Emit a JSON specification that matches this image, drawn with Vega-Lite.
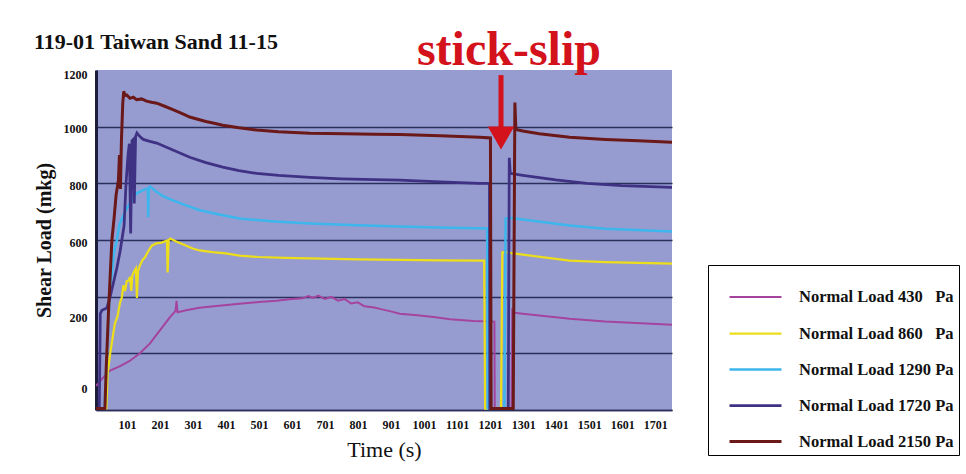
{
"$schema": "https://vega.github.io/schema/vega-lite/v6.json",
"autosize": "none",
"width": 576,
"height": 340,
"padding": {"left": 96, "top": 70, "right": 294, "bottom": 64},
"background": "white",
"view": {"fill": "#969cd0", "stroke": null},
"config": {"font": "Liberation Serif"},
"title": {"text": "119-01 Taiwan Sand 11-15", "anchor": "start", "dx": 0, "offset": -27, "font": "Liberation Serif", "fontSize": 22, "fontWeight": "bold", "color": "#111111"},
"datasets": {
"series": [
{"s":"430","t":7,"v":85},{"s":"430","t":15,"v":95},{"s":"430","t":25,"v":110},{"s":"430","t":48,"v":138},{"s":"430","t":80,"v":155},{"s":"430","t":109,"v":173},{"s":"430","t":140,"v":200},{"s":"430","t":170,"v":234},{"s":"430","t":200,"v":280},{"s":"430","t":230,"v":326},{"s":"430","t":248,"v":350},{"s":"430","t":251,"v":385},{"s":"430","t":254,"v":345},{"s":"430","t":280,"v":352},{"s":"430","t":320,"v":361},{"s":"430","t":380,"v":368},{"s":"430","t":442,"v":375},{"s":"430","t":500,"v":381},{"s":"430","t":554,"v":386},{"s":"430","t":600,"v":392},{"s":"430","t":633,"v":394},{"s":"430","t":650,"v":402},{"s":"430","t":665,"v":396},{"s":"430","t":680,"v":404},{"s":"430","t":700,"v":392},{"s":"430","t":720,"v":399},{"s":"430","t":740,"v":386},{"s":"430","t":760,"v":392},{"s":"430","t":780,"v":376},{"s":"430","t":800,"v":380},{"s":"430","t":820,"v":366},{"s":"430","t":850,"v":362},{"s":"430","t":870,"v":356},{"s":"430","t":900,"v":348},{"s":"430","t":927,"v":340},{"s":"430","t":980,"v":334},{"s":"430","t":1030,"v":328},{"s":"430","t":1080,"v":320},{"s":"430","t":1150,"v":314},{"s":"430","t":1214,"v":312},{"s":"430","t":1215,"v":5},{"s":"430","t":1266,"v":5},{"s":"430","t":1268,"v":352},{"s":"430","t":1275,"v":343},{"s":"430","t":1300,"v":340},{"s":"430","t":1442,"v":322},{"s":"430","t":1550,"v":312},{"s":"430","t":1752,"v":301},
{"s":"860","t":7,"v":5},{"s":"860","t":38,"v":5},{"s":"860","t":40,"v":60},{"s":"860","t":42,"v":127},{"s":"860","t":50,"v":200},{"s":"860","t":58,"v":260},{"s":"860","t":64,"v":304},{"s":"860","t":72,"v":330},{"s":"860","t":80,"v":380},{"s":"860","t":85,"v":396},{"s":"860","t":90,"v":440},{"s":"860","t":95,"v":420},{"s":"860","t":100,"v":455},{"s":"860","t":106,"v":457},{"s":"860","t":110,"v":470},{"s":"860","t":114,"v":420},{"s":"860","t":117,"v":475},{"s":"860","t":124,"v":492},{"s":"860","t":128,"v":500},{"s":"860","t":131,"v":395},{"s":"860","t":134,"v":490},{"s":"860","t":140,"v":510},{"s":"860","t":148,"v":530},{"s":"860","t":155,"v":538},{"s":"860","t":165,"v":560},{"s":"860","t":176,"v":580},{"s":"860","t":190,"v":588},{"s":"860","t":206,"v":591},{"s":"860","t":222,"v":598},{"s":"860","t":224,"v":485},{"s":"860","t":227,"v":600},{"s":"860","t":232,"v":605},{"s":"860","t":250,"v":595},{"s":"860","t":270,"v":585},{"s":"860","t":300,"v":570},{"s":"860","t":321,"v":563},{"s":"860","t":360,"v":557},{"s":"860","t":400,"v":553},{"s":"860","t":442,"v":545},{"s":"860","t":500,"v":540},{"s":"860","t":580,"v":537},{"s":"860","t":655,"v":535},{"s":"860","t":800,"v":532},{"s":"860","t":927,"v":530},{"s":"860","t":1050,"v":528},{"s":"860","t":1183,"v":527},{"s":"860","t":1186,"v":5},{"s":"860","t":1234,"v":5},{"s":"860","t":1238,"v":556},{"s":"860","t":1250,"v":556},{"s":"860","t":1300,"v":548},{"s":"860","t":1442,"v":527},{"s":"860","t":1550,"v":522},{"s":"860","t":1752,"v":517},
{"s":"1290","t":7,"v":5},{"s":"1290","t":33,"v":5},{"s":"1290","t":38,"v":150},{"s":"1290","t":45,"v":304},{"s":"1290","t":48,"v":421},{"s":"1290","t":55,"v":480},{"s":"1290","t":62,"v":560},{"s":"1290","t":70,"v":598},{"s":"1290","t":79,"v":658},{"s":"1290","t":95,"v":700},{"s":"1290","t":110,"v":730},{"s":"1290","t":130,"v":765},{"s":"1290","t":150,"v":776},{"s":"1290","t":164,"v":782},{"s":"1290","t":165,"v":680},{"s":"1290","t":167,"v":786},{"s":"1290","t":172,"v":788},{"s":"1290","t":190,"v":770},{"s":"1290","t":210,"v":755},{"s":"1290","t":240,"v":740},{"s":"1290","t":280,"v":722},{"s":"1290","t":321,"v":705},{"s":"1290","t":380,"v":690},{"s":"1290","t":442,"v":676},{"s":"1290","t":550,"v":665},{"s":"1290","t":655,"v":658},{"s":"1290","t":800,"v":652},{"s":"1290","t":927,"v":648},{"s":"1290","t":1050,"v":644},{"s":"1290","t":1192,"v":641},{"s":"1290","t":1194,"v":5},{"s":"1290","t":1244,"v":5},{"s":"1290","t":1248,"v":676},{"s":"1290","t":1262,"v":678},{"s":"1290","t":1300,"v":672},{"s":"1290","t":1442,"v":651},{"s":"1290","t":1550,"v":640},{"s":"1290","t":1752,"v":630},
{"s":"1720","t":7,"v":5},{"s":"1720","t":17,"v":5},{"s":"1720","t":20,"v":340},{"s":"1720","t":25,"v":352},{"s":"1720","t":40,"v":360},{"s":"1720","t":50,"v":400},{"s":"1720","t":60,"v":450},{"s":"1720","t":70,"v":500},{"s":"1720","t":80,"v":560},{"s":"1720","t":92,"v":650},{"s":"1720","t":98,"v":800},{"s":"1720","t":104,"v":900},{"s":"1720","t":108,"v":940},{"s":"1720","t":112,"v":623},{"s":"1720","t":116,"v":950},{"s":"1720","t":120,"v":955},{"s":"1720","t":123,"v":729},{"s":"1720","t":127,"v":965},{"s":"1720","t":131,"v":978},{"s":"1720","t":140,"v":965},{"s":"1720","t":150,"v":955},{"s":"1720","t":170,"v":948},{"s":"1720","t":191,"v":942},{"s":"1720","t":240,"v":918},{"s":"1720","t":291,"v":892},{"s":"1720","t":340,"v":873},{"s":"1720","t":391,"v":857},{"s":"1720","t":440,"v":845},{"s":"1720","t":494,"v":835},{"s":"1720","t":560,"v":828},{"s":"1720","t":655,"v":821},{"s":"1720","t":750,"v":816},{"s":"1720","t":850,"v":813},{"s":"1720","t":927,"v":811},{"s":"1720","t":1050,"v":805},{"s":"1720","t":1170,"v":800},{"s":"1720","t":1199,"v":800},{"s":"1720","t":1200,"v":5},{"s":"1720","t":1256,"v":5},{"s":"1720","t":1259,"v":890},{"s":"1720","t":1262,"v":835},{"s":"1720","t":1300,"v":828},{"s":"1720","t":1400,"v":812},{"s":"1720","t":1494,"v":800},{"s":"1720","t":1600,"v":792},{"s":"1720","t":1752,"v":786},
{"s":"2150","t":7,"v":5},{"s":"2150","t":34,"v":5},{"s":"2150","t":38,"v":150},{"s":"2150","t":45,"v":350},{"s":"2150","t":55,"v":598},{"s":"2150","t":62,"v":680},{"s":"2150","t":68,"v":760},{"s":"2150","t":75,"v":811},{"s":"2150","t":78,"v":900},{"s":"2150","t":81,"v":780},{"s":"2150","t":84,"v":950},{"s":"2150","t":88,"v":1080},{"s":"2150","t":91,"v":1125},{"s":"2150","t":95,"v":1110},{"s":"2150","t":100,"v":1112},{"s":"2150","t":110,"v":1100},{"s":"2150","t":120,"v":1104},{"s":"2150","t":130,"v":1095},{"s":"2150","t":145,"v":1098},{"s":"2150","t":160,"v":1090},{"s":"2150","t":175,"v":1086},{"s":"2150","t":191,"v":1083},{"s":"2150","t":215,"v":1072},{"s":"2150","t":240,"v":1060},{"s":"2150","t":265,"v":1048},{"s":"2150","t":291,"v":1034},{"s":"2150","t":315,"v":1026},{"s":"2150","t":340,"v":1018},{"s":"2150","t":365,"v":1012},{"s":"2150","t":391,"v":1005},{"s":"2150","t":440,"v":996},{"s":"2150","t":494,"v":988},{"s":"2150","t":560,"v":982},{"s":"2150","t":655,"v":977},{"s":"2150","t":760,"v":975},{"s":"2150","t":850,"v":973},{"s":"2150","t":927,"v":972},{"s":"2150","t":1050,"v":968},{"s":"2150","t":1170,"v":963},{"s":"2150","t":1202,"v":960},{"s":"2150","t":1204,"v":5},{"s":"2150","t":1271,"v":5},{"s":"2150","t":1276,"v":1085},{"s":"2150","t":1279,"v":990},{"s":"2150","t":1300,"v":985},{"s":"2150","t":1350,"v":975},{"s":"2150","t":1442,"v":963},{"s":"2150","t":1550,"v":955},{"s":"2150","t":1650,"v":950},{"s":"2150","t":1752,"v":945}
],
"label": [{"t": 1258, "v": 1218, "text": "stick-slip"}],
"arrow": [{"t": 1234, "v": 1182, "v2": 990}],
"head": [{"t": 1234, "v": 960}]
},
"encoding": {
"x": {"field": "t", "type": "quantitative", "scale": {"domain": [7, 1752], "nice": false, "zero": false},
 "axis": {"values": [101,201,301,401,501,601,701,801,901,1001,1101,1201,1301,1401,1501,1601,1701], "format": "d", "grid": false, "ticks": false, "domain": true, "domainColor": "#2a2e5a", "domainWidth": 1.5, "labelFont": "Liberation Serif", "labelFontWeight": "bold", "labelFontSize": 12, "labelColor": "#111111", "labelPadding": 9, "labelFlush": false, "labelOverlap": false, "title": "Time (s)", "titleFont": "Liberation Serif", "titleFontWeight": "normal", "titleFontSize": 22, "titleColor": "#111111", "titlePadding": 9}},
"y": {"field": "v", "type": "quantitative", "scale": {"domain": [0, 1200], "nice": false},
 "axis": {"values": [0,200,400,600,800,1000,1200], "format": "d", "grid": true, "gridColor": {"condition": {"test": "datum.value === 1200", "value": "transparent"}, "value": "#2b2f5c"}, "gridWidth": 1.5, "ticks": false, "domain": true, "domainColor": "#1c1d3c", "domainWidth": 3, "labelExpr": "datum.value === 400 ? '' : datum.label", "labelFont": "Liberation Serif", "labelFontWeight": "bold", "labelFontSize": 12, "labelColor": "#111111", "labelPadding": 9,
  "labelOffset": {"condition": [{"test": "datum.value === 200", "value": -36}, {"test": "datum.value === 0", "value": -22}, {"test": "datum.value === 1200", "value": 4}], "value": 2},
  "title": "Shear Load (mkg)", "titleFont": "Liberation Serif", "titleFontWeight": "bold", "titleFontSize": 20, "titleColor": "#111111", "titlePadding": 9}}
},
"layer": [
{"data": {"name": "series"},
 "mark": {"type": "line", "clip": true},
 "encoding": {
  "color": {"field": "s", "type": "nominal",
   "scale": {"domain": ["430","860","1290","1720","2150"], "range": ["#a4449f","#ecde1a","#3cb6ec","#3f3284","#6a1818"]},
   "legend": {"orient": "none", "legendX": 612, "legendY": 195, "title": null, "symbolType": "stroke", "symbolSize": 2704, "symbolStrokeWidth": 3,
    "labelExpr": "'Normal Load ' + datum.label + (length(datum.label) < 4 ? '\u00a0\u00a0\u00a0' : ' ') + 'Pa'",
    "labelFont": "Liberation Serif", "labelFontWeight": "bold", "labelFontSize": 16.5, "labelColor": "#111111", "labelOffset": 16, "labelLimit": 300,
    "rowPadding": -10.5, "padding": 5, "symbolOffset": 15, "strokeColor": "#000000", "fillColor": "#ffffff"}},
  "strokeWidth": {"field": "s", "type": "nominal", "scale": {"domain": ["430","860","1290","1720","2150"], "range": [2, 3, 3, 2, 2]}, "legend": null}
 }},
{"data": {"name": "arrow"}, "mark": {"type": "rule", "color": "#d3121c", "strokeWidth": 5}, "encoding": {"y2": {"field": "v2"}}},
{"data": {"name": "head"}, "mark": {"type": "point", "shape": "triangle-down", "filled": true, "color": "#d3121c", "opacity": 1, "size": 700}},
{"data": {"name": "label"}, "mark": {"type": "text", "font": "Liberation Serif", "fontWeight": "bold", "fontSize": 48, "color": "#d3121c", "align": "center", "baseline": "alphabetic"}, "encoding": {"text": {"field": "text"}}}
]
}
